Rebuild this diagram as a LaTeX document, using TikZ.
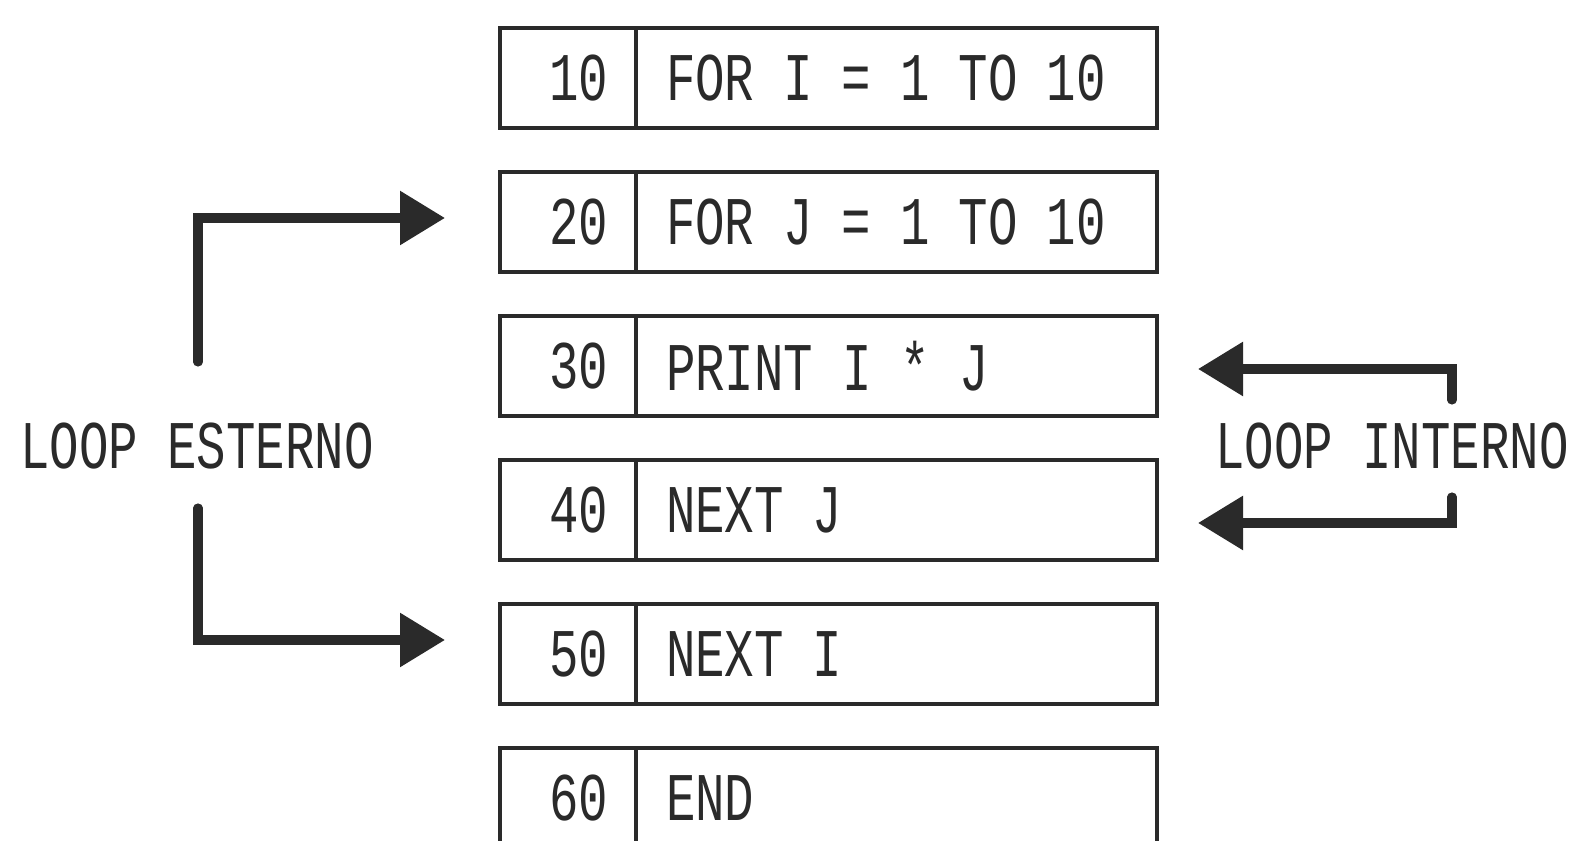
\documentclass[tikz,border=0pt]{standalone}
\usepackage{fontspec}
\usepackage{tikz}
\usetikzlibrary{arrows.meta,positioning,calc}
\newfontfamily\codefont[FakeStretch=0.72]{Liberation Mono}
\newcommand\wsp{\hspace{0.29cm}}
\definecolor{ink}{HTML}{2A2A2A}
\tikzset{
  numcell/.style={draw=ink,line width=1pt,outer sep=0pt,inner xsep=0.28cm,text width=0.80cm,align=right,minimum height=1.0cm,text=ink,font=\codefont\fontsize{19.4}{23}\selectfont},
  codecell/.style={draw=ink,line width=1pt,outer sep=0pt,inner xsep=0.30cm,text width=4.61cm,align=left,minimum height=1.0cm,text=ink,font=\codefont\fontsize{19.4}{23}\selectfont},
  lbl/.style={text=ink,font=\codefont\fontsize{19.4}{23}\selectfont,inner sep=0pt},
  looparr/.style={-{Triangle[length=0.45cm,width=0.52cm]},line width=2.6pt,draw=ink,line cap=round},
}
\begin{document}
\begin{tikzpicture}[node distance=0.44cm]
  \useasboundingbox (0,0) rectangle (15.72,-8.41);
  \clip (0,0) rectangle (15.72,-8.41);
  % program lines
  \node[numcell] (n10) at (5.68,-0.78) {10};
  \node[codecell,right=0pt of n10] (c10) {FOR\wsp I\wsp =\wsp 1\wsp TO\wsp 10};
  \node[numcell,below=of n10] (n20) {20};
  \node[codecell,right=0pt of n20] (c20) {FOR\wsp J\wsp =\wsp 1\wsp TO\wsp 10};
  \node[numcell,below=of n20] (n30) {30};
  \node[codecell,right=0pt of n30] (c30) {PRINT\wsp I\wsp *\wsp J};
  \node[numcell,below=of n30] (n40) {40};
  \node[codecell,right=0pt of n40] (c40) {NEXT\wsp J};
  \node[numcell,below=of n40] (n50) {50};
  \node[codecell,right=0pt of n50] (c50) {NEXT\wsp I};
  \node[numcell,below=of n50] (n60) {60};
  \node[codecell,right=0pt of n60] (c60) {END};
  % loop labels
  \node[lbl] (esterno) at (1.97,-4.46) {LOOP ESTERNO};
  \node[lbl] (interno) at (13.92,-4.46) {LOOP INTERNO};
  \coordinate (eTop) at (1.98,-3.62);
  \coordinate (eBot) at (1.98,-5.08);
  \coordinate (iTop) at (14.52,-4.00);
  \coordinate (iBot) at (14.52,-4.97);
  \draw[looparr] (eTop) |- ([xshift=-0.55cm,yshift=0.04cm]n20.west);
  \draw[looparr] (eBot) |- ([xshift=-0.55cm,yshift=0.14cm]n50.west);
  \draw[looparr] (iTop) |- ([xshift=0.41cm,yshift=-0.03cm]c30.east);
  \draw[looparr] (iBot) |- ([xshift=0.41cm,yshift=-0.13cm]c40.east);
\end{tikzpicture}
\end{document}
